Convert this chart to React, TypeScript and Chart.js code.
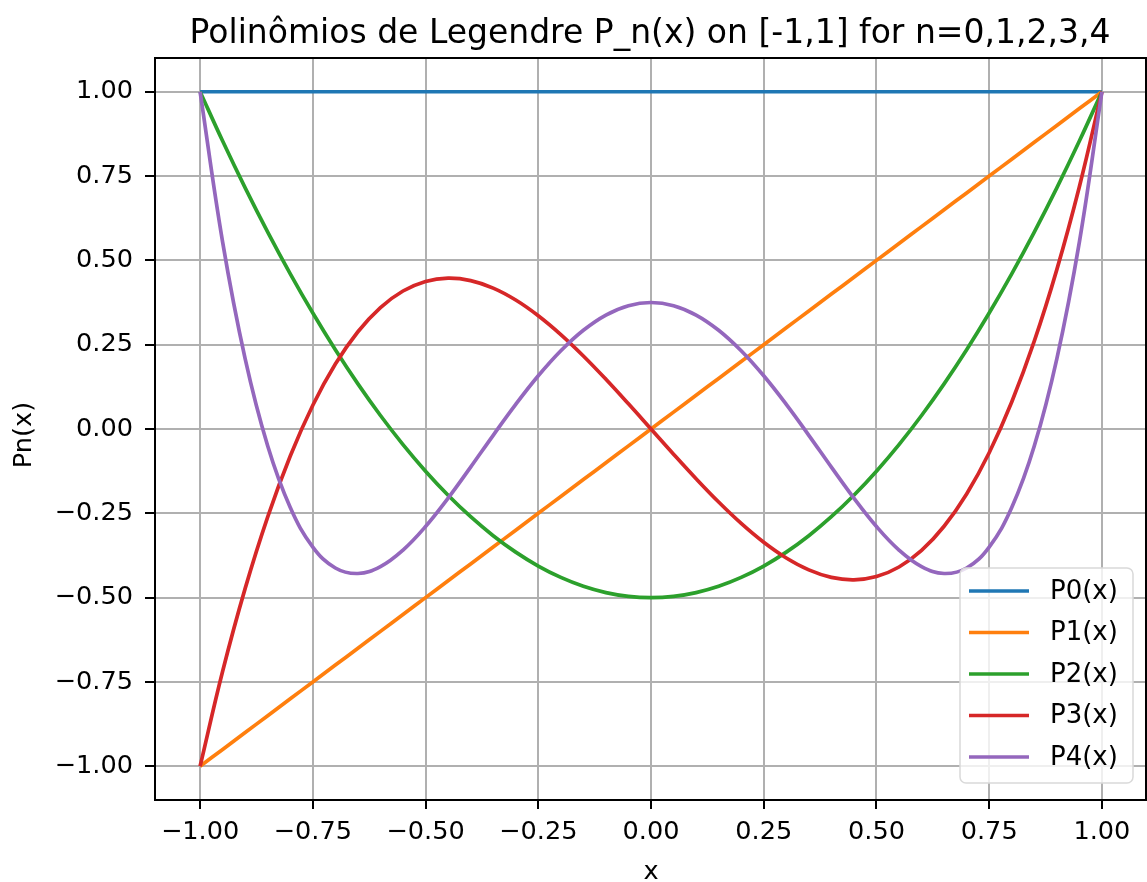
import React, { useEffect, useRef } from "react";
import { Chart, registerables } from "chart.js";

Chart.register(...registerables);

const titleText = "Polinômios de Legendre P_n(x) on [-1,1] for n=0,1,2,3,4";
const xLabel = "x";
const yLabel = "Pn(x)";
const seriesNames = ["P0(x)", "P1(x)", "P2(x)", "P3(x)", "P4(x)"];
const seriesColors = ["#1f77b4", "#ff7f0e", "#2ca02c", "#d62728", "#9467bd"];
const tickValues = [-1, -0.75, -0.5, -0.25, 0, 0.25, 0.5, 0.75, 1];

const xValues = [
  -1, -0.95, -0.9, -0.85, -0.8, -0.75, -0.7, -0.65, -0.6, -0.55, -0.5, -0.45, -0.4, -0.35, -0.3, -0.25, -0.2, -0.15, -0.1, -0.05,
  0, 0.05, 0.1, 0.15, 0.2, 0.25, 0.3, 0.35, 0.4, 0.45, 0.5, 0.55, 0.6, 0.65, 0.7, 0.75, 0.8, 0.85, 0.9, 0.95, 1,
];
const p0 = [
  1, 1, 1, 1, 1, 1, 1, 1, 1, 1, 1, 1, 1, 1, 1, 1, 1, 1, 1, 1,
  1, 1, 1, 1, 1, 1, 1, 1, 1, 1, 1, 1, 1, 1, 1, 1, 1, 1, 1, 1, 1,
];
const p1 = [
  -1, -0.95, -0.9, -0.85, -0.8, -0.75, -0.7, -0.65, -0.6, -0.55, -0.5, -0.45, -0.4, -0.35, -0.3, -0.25, -0.2, -0.15, -0.1, -0.05,
  0, 0.05, 0.1, 0.15, 0.2, 0.25, 0.3, 0.35, 0.4, 0.45, 0.5, 0.55, 0.6, 0.65, 0.7, 0.75, 0.8, 0.85, 0.9, 0.95, 1,
];
const p2 = [
  1, 0.8538, 0.715, 0.5838, 0.46, 0.3438, 0.235, 0.1338, 0.04, -0.0463, -0.125, -0.1963, -0.26, -0.3163, -0.365, -0.4063, -0.44, -0.4663, -0.485, -0.4963,
  -0.5, -0.4963, -0.485, -0.4663, -0.44, -0.4063, -0.365, -0.3163, -0.26, -0.1963, -0.125, -0.0463, 0.04, 0.1338, 0.235, 0.3438, 0.46, 0.5838, 0.715, 0.8538, 1,
];
const p3 = [
  -1, -0.7184, -0.4725, -0.2603, -0.08, 0.0703, 0.1925, 0.2884, 0.36, 0.4091, 0.4375, 0.4472, 0.44, 0.4178, 0.3825, 0.3359, 0.28, 0.2166, 0.1475, 0.0747,
  0, -0.0747, -0.1475, -0.2166, -0.28, -0.3359, -0.3825, -0.4178, -0.44, -0.4472, -0.4375, -0.4091, -0.36, -0.2884, -0.1925, -0.0703, 0.08, 0.2603, 0.4725, 0.7184, 1,
];
const p4 = [
  1, 0.5541, 0.2079, -0.0506, -0.233, -0.3501, -0.4121, -0.4284, -0.408, -0.359, -0.2891, -0.205, -0.113, -0.0187, 0.0729, 0.1577, 0.232, 0.2928, 0.3379, 0.3657,
  0.375, 0.3657, 0.3379, 0.2928, 0.232, 0.1577, 0.0729, -0.0187, -0.113, -0.205, -0.2891, -0.359, -0.408, -0.4284, -0.4121, -0.3501, -0.233, -0.0506, 0.2079, 0.5541, 1,
];
const seriesValues = [p0, p1, p2, p3, p4];

const FONT = "'DejaVu Sans', sans-serif";
const fmt = (v: number) => (v < 0 ? "\u2212" + Math.abs(v).toFixed(2) : v.toFixed(2));

const decorPlugin = {
  id: "decor",
  afterDraw(chart: any) {
    const { ctx, chartArea } = chart;
    const { left, right, top, bottom } = chartArea;
    ctx.save();
    // top / right spines
    ctx.strokeStyle = "#000";
    ctx.lineWidth = 2;
    ctx.beginPath();
    ctx.moveTo(left, top);
    ctx.lineTo(right, top);
    ctx.moveTo(right - 1, top);
    ctx.lineTo(right - 1, bottom);
    ctx.stroke();
    // title
    ctx.fillStyle = "#000";
    ctx.font = `33px ${FONT}`;
    ctx.textAlign = "center";
    ctx.textBaseline = "alphabetic";
    ctx.fillText(titleText, 650, 43);
    // x label
    ctx.font = `25.6px ${FONT}`;
    ctx.fillText(xLabel, 651, 879);
    // y label
    ctx.save();
    ctx.translate(24, 435);
    ctx.rotate(-Math.PI / 2);
    ctx.textBaseline = "middle";
    ctx.fillText(yLabel, 0, 0);
    ctx.restore();
    // legend
    const bx = 960, by = 568, bw = 173, bh = 215, r = 6;
    ctx.beginPath();
    ctx.moveTo(bx + r, by);
    ctx.arcTo(bx + bw, by, bx + bw, by + bh, r);
    ctx.arcTo(bx + bw, by + bh, bx, by + bh, r);
    ctx.arcTo(bx, by + bh, bx, by, r);
    ctx.arcTo(bx, by, bx + bw, by, r);
    ctx.closePath();
    ctx.fillStyle = "rgba(255,255,255,0.8)";
    ctx.fill();
    ctx.strokeStyle = "#d9d9d9";
    ctx.lineWidth = 1.5;
    ctx.stroke();
    ctx.font = `26px ${FONT}`;
    ctx.textAlign = "left";
    ctx.textBaseline = "middle";
    seriesNames.forEach((name, i) => {
      const y = 591 + i * 41.5;
      ctx.strokeStyle = seriesColors[i];
      ctx.lineWidth = 3.7;
      ctx.beginPath();
      ctx.moveTo(969, y);
      ctx.lineTo(1029, y);
      ctx.stroke();
      ctx.fillStyle = "#000";
      ctx.fillText(name, 1050, y + 1);
    });
    ctx.restore();
  },
};

export default function App() {
  const ref = useRef<HTMLCanvasElement | null>(null);
  useEffect(() => {
    if (!ref.current) return;
    const datasets = seriesValues.map((vals, i) => ({
      label: seriesNames[i],
      data: vals.map((y, j) => ({ x: xValues[j], y })),
      borderColor: seriesColors[i],
      backgroundColor: seriesColors[i],
      borderWidth: 3.7,
      pointRadius: 0,
      tension: 0.4,
      fill: false,
      order: seriesNames.length - i,
    }));
    const axisCommon = (isX: boolean) => ({
      type: "linear" as const,
      min: -1.1,
      max: 1.1,
      grid: {
        color: "#b0b0b0",
        lineWidth: 2,
        tickColor: "#000",
        tickLength: isX ? 9 : 10,
        tickWidth: 2,
      },
      border: { display: true, color: "#000", width: 2 },
      ticks: {
        color: "#000",
        font: { family: FONT, size: 25.6 },
        padding: isX ? 8 : 12,
        maxRotation: 0,
        autoSkip: false,
        callback: (v: any) => fmt(Number(v)),
      },
      afterBuildTicks: (scale: any) => {
        scale.ticks = tickValues.map((v) => ({ value: v }));
      },
      afterFit: (scale: any) => {
        if (isX) scale.height = 82;
        else scale.width = 155;
      },
    });
    const chart = new Chart(ref.current, {
      type: "line",
      data: { datasets },
      options: {
        animation: false,
        responsive: false,
        maintainAspectRatio: false,
        layout: { padding: { top: 58, left: 0, right: 0, bottom: 0 } },
        plugins: { legend: { display: false }, tooltip: { enabled: false }, title: { display: false } },
        scales: { x: axisCommon(true), y: axisCommon(false) },
      },
      plugins: [decorPlugin],
    });
    return () => chart.destroy();
  }, []);
  return (
    <div style={{ position: "absolute", left: 0, top: 0, width: 1147, height: 882, background: "#fff" }}>
      <canvas ref={ref} width={1147} height={882} style={{ width: 1147, height: 882 }} />
    </div>
  );
}
